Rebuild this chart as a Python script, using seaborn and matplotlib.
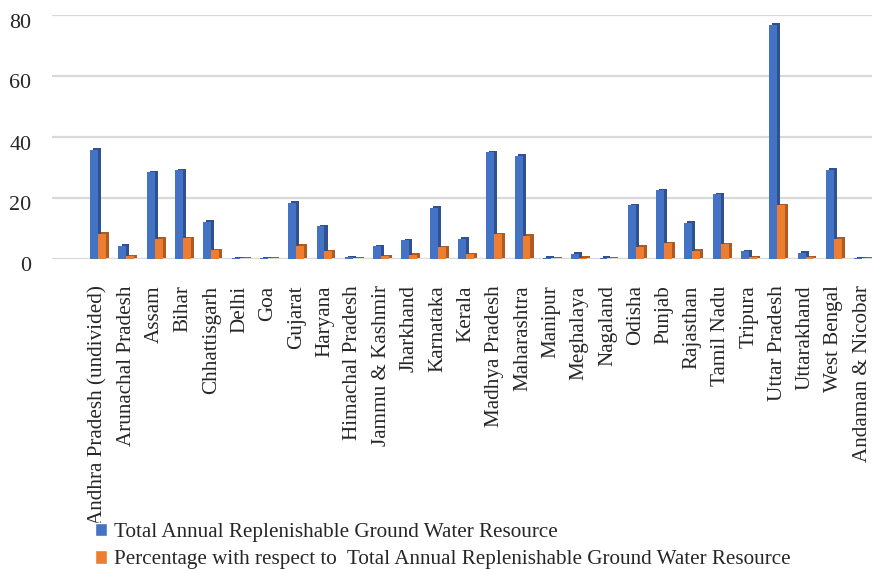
import matplotlib
matplotlib.use("Agg")
import matplotlib.pyplot as plt
import matplotlib.patheffects as pe
import matplotlib.transforms as mtransforms
import pandas as pd
import seaborn as sns

states = [
    "Andhra Pradesh (undivided)", "Arunachal Pradesh", "Assam", "Bihar",
    "Chhattisgarh", "Delhi", "Goa", "Gujarat", "Haryana", "Himachal Pradesh",
    "Jammu & Kashmir", "Jharkhand", "Karnataka", "Kerala", "Madhya Pradesh",
    "Maharashtra", "Manipur", "Meghalaya", "Nagaland", "Odisha", "Punjab",
    "Rajasthan", "Tamil Nadu", "Tripura", "Uttar Pradesh", "Uttarakhand",
    "West Bengal", "Andaman & Nicobar",
]
total_resource = [
    35.9, 4.4, 28.5, 29.2, 12.2, 0.3, 0.2, 18.4, 10.7, 0.5,
    4.2, 6.2, 16.8, 6.6, 35.0, 33.9, 0.4, 1.8, 0.4, 17.6, 22.5,
    11.9, 21.3, 2.5, 76.8, 2.1, 29.3, 0.3,
]
pct_of_total = [
    8.3, 1.0, 6.6, 6.8, 2.8, 0.1, 0.1, 4.3, 2.5, 0.1,
    1.0, 1.4, 3.9, 1.5, 8.1, 7.7, 0.1, 0.4, 0.1, 4.0, 5.2,
    2.7, 4.9, 0.6, 17.6, 0.5, 6.7, 0.1,
]
series_names = [
    "Total Annual Replenishable Ground Water Resource",
    "Percentage with respect to  Total Annual Replenishable Ground Water Resource",
]

df = pd.DataFrame({
    "State": states * 2,
    "Value": total_resource + pct_of_total,
    "Series": [series_names[0]] * len(states) + [series_names[1]] * len(states),
})

sns.set_theme(style="white")
plt.rcParams["font.family"] = ["Liberation Serif", "DejaVu Serif"]

fig = plt.figure(figsize=(8.72, 5.69), dpi=100)
ax = fig.add_axes([52 / 872, 1 - 259 / 569, (872 - 52) / 872, (259 - 15) / 569])

palette = {series_names[0]: "#4472C4", series_names[1]: "#ED7D31"}
sns.barplot(data=df, x="State", y="Value", hue="Series", palette=palette,
            width=0.56, ax=ax, saturation=1, legend=True)

# darker side face to give the bars a slight 3-D look
dark = {series_names[0]: "#2F528F", series_names[1]: "#AE5A21"}
for container, name in zip(ax.containers, series_names):
    for bar in container:
        bar.set_linewidth(0)
        bar.set_path_effects([
            pe.SimplePatchShadow(offset=(2.2, 1.0), shadow_rgbFace=dark[name], alpha=1),
            pe.Normal(),
        ])

ax.set_ylim(0, 80)
ax.set_yticks([0, 20, 40, 60, 80])
ax.set_xlim(-1.63, 27.35)
ax.yaxis.grid(True, color="#d9d9d9", linewidth=1.6)
ax.set_axisbelow(True)
for s in ax.spines.values():
    s.set_visible(False)
ax.set_xlabel("")
ax.set_ylabel("")
ax.tick_params(axis="y", labelsize=15.8, pad=15, length=0)
ax.tick_params(axis="x", labelsize=15.2, pad=19, length=0)
plt.setp(ax.get_xticklabels(), rotation=90, ha="center", va="top")

# value labels sit a little below their gridlines
shift = mtransforms.ScaledTranslation(0, -5.5 / 100, fig.dpi_scale_trans)
for lbl in ax.get_yticklabels():
    lbl.set_transform(lbl.get_transform() + shift)

handles, labels = ax.get_legend_handles_labels()
ax.get_legend().remove()
fig.legend(handles, labels, loc="upper left",
           bbox_to_anchor=(95 / 872, 1 - 523 / 569), frameon=False,
           borderaxespad=0, borderpad=0, fontsize=15.2, handlelength=0.58,
           handleheight=0.58, handletextpad=0.3, labelspacing=0.4)

fig.savefig("out.png", dpi=100)
